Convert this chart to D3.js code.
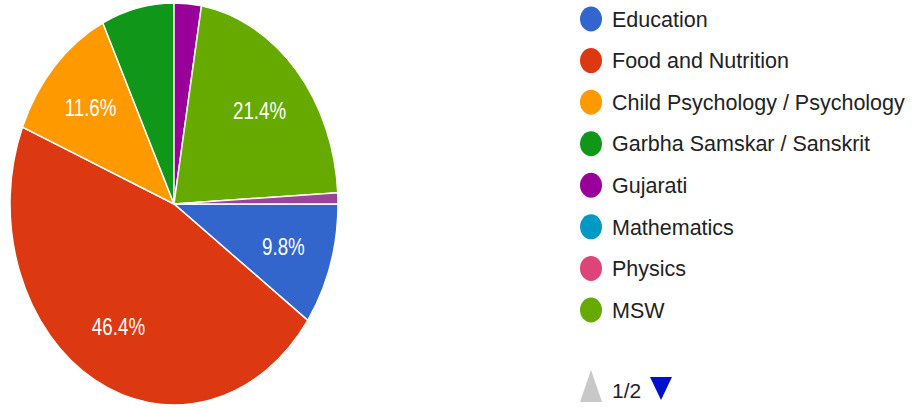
<!DOCTYPE html>
<html>
<head>
<meta charset="utf-8">
<script src="https://cdn.jsdelivr.net/npm/d3@7"></script>
<style>
  html, body { margin: 0; padding: 0; background: #fff; }
  svg { display: block; }
  text { font-family: Arial, "Liberation Sans", sans-serif; }
</style>
</head>
<body>
<div id="chart"></div>
<script>
// responses per subject (page 1 of legend = first 8, last slice sits on page 2)
const categories = ["Education", "Food and Nutrition", "Child Psychology / Psychology",
  "Garbha Samskar / Sanskrit", "Gujarati", "Mathematics", "Physics", "MSW", "Other"];
const counts = [11, 52, 13, 8, 3, 0, 0, 24, 1];
const colors = ["#3366cc", "#dc3912", "#ff9900", "#109618", "#990099",
  "#0099c6", "#dd4477", "#66aa00", "#994499"];
const pageLabel = "1/2";

(function () {
  const W = 916, H = 409;
  const cx = 174, cy = 204;
  const R = 201;          // vertical radius
  const sx = 164 / 201;   // picture is squeezed horizontally
  const pageSize = 8;

  const data = categories.map((c, i) => ({ name: c, value: counts[i], color: colors[i] }));
  const total = d3.sum(data, d => d.value);
  const fmtPct = d3.format(".1%");

  const svg = d3.select("#chart").append("svg")
    .attr("width", W)
    .attr("height", H);

  const pie = d3.pie()
    .sort(null)
    .value(d => d.value)
    .startAngle(Math.PI / 2)
    .endAngle(Math.PI / 2 + 2 * Math.PI);

  const arcs = pie(data).filter(a => a.data.value > 0);
  const arc = d3.arc().innerRadius(0).outerRadius(R);
  const labelArc = d3.arc().innerRadius(R * 0.7).outerRadius(R * 0.7);

  // ==== Slices ====
  svg.append("g")
    .attr("transform", `translate(${cx},${cy}) scale(${sx},1)`)
    .selectAll("path")
    .data(arcs)
    .enter().append("path")
      .attr("d", arc)
      .attr("fill", d => d.data.color)
      .attr("stroke", "#fff")
      .attr("stroke-width", 1.5)
      .attr("vector-effect", "non-scaling-stroke");

  // ==== Nhãn % (only slices big enough to hold the text) ====
  svg.append("g")
    .selectAll("text")
    .data(arcs.filter(a => a.data.value / total >= 0.09))
    .enter().append("text")
      .attr("transform", d => {
        const [x, y] = labelArc.centroid(d);
        return `translate(${cx + x * sx},${cy + y}) scale(${sx},1)`;
      })
      .attr("text-anchor", "middle")
      .attr("dy", "0.36em")
      .style("font-size", "23px")
      .style("fill", "#fff")
      .text(d => fmtPct(d.data.value / total));

  // ==== Legend ====
  const rowY = d3.scalePoint()
    .domain(d3.range(pageSize))
    .range([19, 310]);

  const legend = svg.append("g")
    .selectAll("g")
    .data(data.slice(0, pageSize))
    .enter().append("g")
      .attr("transform", (d, i) => `translate(591,${rowY(i)})`);

  legend.append("ellipse")
    .attr("rx", 11)
    .attr("ry", 12.5)
    .attr("fill", d => d.color);

  legend.append("text")
    .attr("x", 21)
    .attr("dy", "0.36em")
    .style("font-size", "21.5px")
    .style("fill", "#222")
    .text(d => d.name);

  // ==== Pager ====
  const pager = svg.append("g");
  pager.append("path")
    .attr("d", "M580,402 L591,370 L602,402 Z")
    .attr("fill", "#c8c8c8");
  pager.append("text")
    .attr("x", 612)
    .attr("y", 390)
    .attr("dy", "0.36em")
    .style("font-size", "21px")
    .style("fill", "#222")
    .text(pageLabel);
  pager.append("path")
    .attr("d", "M650,377 L672,377 L661,400 Z")
    .attr("fill", "#0011cc");
})();
</script>
</body>
</html>
